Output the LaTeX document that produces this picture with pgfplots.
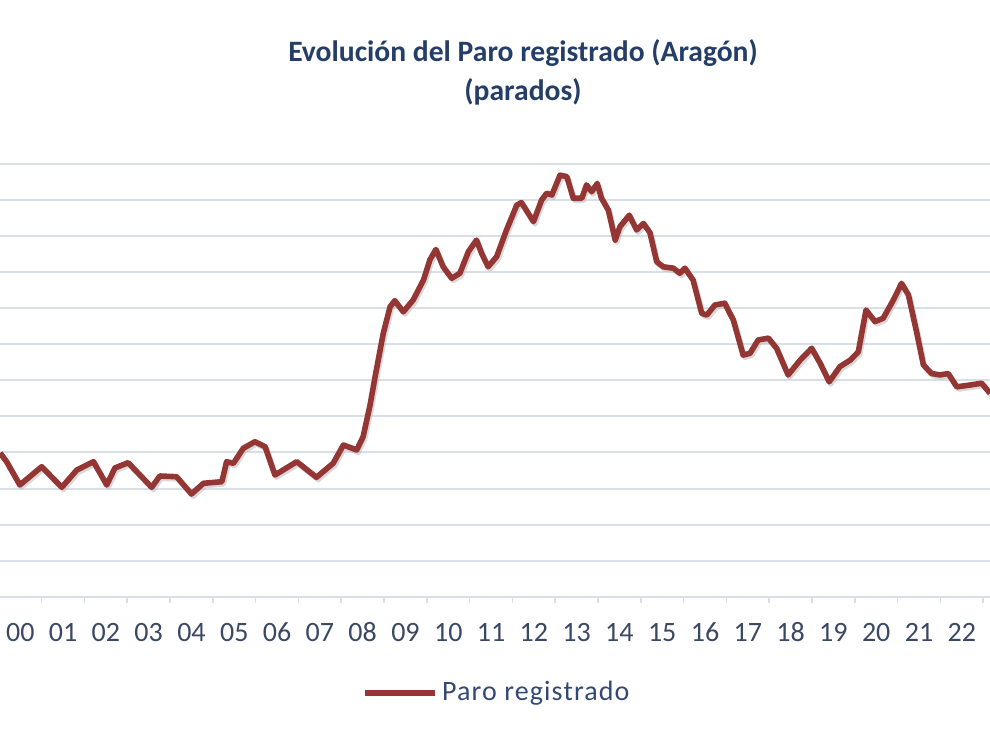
\documentclass[border=0pt]{standalone}
\usepackage{pgfplots}
\pgfplotsset{compat=1.18}
\usepackage{pgfplotstable}
\usepackage{fontspec}
\setmainfont{Carlito}
\newfontfamily\legfont[LetterSpace=4]{Carlito}
\definecolor{linered}{RGB}{148,54,52}
\definecolor{gridc}{RGB}{217,223,233}
\definecolor{titlec}{RGB}{36,62,104}
\definecolor{tickc}{RGB}{58,72,100}
\definecolor{legc}{RGB}{52,72,118}
\pgfplotstableread{
x y
2000.03 39850
2000.18 37440
2000.49 30980
2001.00 36050
2001.47 30340
2001.82 35130
2002.21 37440
2002.52 30980
2002.71 35690
2003.02 37160
2003.57 30340
2003.76 33470
2004.15 33280
2004.50 28480
2004.78 31450
2005.21 31890
2005.32 37440
2005.48 36990
2005.71 41150
2005.98 42980
2006.22 41600
2006.45 33750
2006.96 37440
2007.42 33110
2007.81 36990
2008.05 42070
2008.36 40680
2008.51 44370
2008.67 53000
2008.79 61000
2008.98 73000
2009.14 80400
2009.25 82100
2009.45 79000
2009.68 82300
2009.92 87800
2010.07 93400
2010.21 96300
2010.38 91500
2010.58 88300
2010.77 89700
2010.97 95700
2011.16 98900
2011.28 95200
2011.43 91500
2011.63 94300
2011.86 101700
2012.10 108600
2012.21 109300
2012.49 104000
2012.68 110000
2012.80 111900
2012.92 111400
2013.11 116900
2013.27 116500
2013.42 110500
2013.62 110500
2013.73 114200
2013.85 112300
2013.98 114600
2014.08 110500
2014.24 107200
2014.40 98900
2014.51 102600
2014.73 105800
2014.90 101700
2015.06 103500
2015.21 101000
2015.37 92900
2015.52 91500
2015.76 91100
2015.91 89700
2016.03 91100
2016.22 87800
2016.42 78600
2016.54 78100
2016.73 80900
2016.96 81400
2017.16 76700
2017.39 67000
2017.55 67500
2017.74 71200
2017.98 71700
2018.17 68900
2018.44 61500
2018.72 65600
2018.99 68900
2019.19 64700
2019.40 59600
2019.65 63800
2019.89 65600
2020.08 67900
2020.26 79500
2020.47 76300
2020.66 77200
2020.90 82300
2021.09 86900
2021.25 83700
2021.44 73500
2021.60 64300
2021.79 61900
2021.99 61500
2022.18 61900
2022.38 58200
2022.69 58700
2022.96 59200
2023.16 56400
}\paro
\begin{document}
\begin{tikzpicture}
\path[use as bounding box] (0,0) rectangle (495pt,371.5pt);
\begin{axis}[
  at={(0pt,73.15pt)}, anchor=south west,
  scale only axis, width=495pt, height=216.35pt,
  xmin=2000.026, xmax=2023.157,
  ymin=0, ymax=120000,
  scaled y ticks=false,
  axis lines*=left,
  y axis line style={draw=none},
  x axis line style={draw=gridc, line width=1pt},
  ytick={10000,20000,...,120000},
  yticklabels={}, ytick style={draw=none},
  ymajorgrids, major grid style={draw=gridc, line width=1pt},
  xtick={2001,2002,...,2023}, xticklabels={},
  xtick align=outside, major tick length=3pt,
  xtick style={draw=gridc, line width=0.8pt},
  extra x ticks={2000.5,2001.5,...,2022.5},
  extra x tick labels={00,01,02,03,04,05,06,07,08,09,10,11,12,13,14,15,16,17,18,19,20,21,22},
  extra x tick style={major tick length=0pt, tick style={draw=none}, grid=none,
    tick label style={anchor=base, yshift=-22.5pt}},
  xticklabel style={font=\fontsize{14}{16}\selectfont, text=tickc},
  legend style={at={(0.503,-0.222)}, anchor=center, draw=none, fill=none,
    font=\legfont\fontsize{14}{16}\selectfont, text=legc, legend cell align=left,
    /tikz/every even column/.append style={column sep=2pt}},
  legend image code/.code={\draw[#1] (0pt,0pt) -- (35pt,0pt);},
]
\addplot[black!25, opacity=0.6, line width=2.6pt, line join=round, xshift=0.8pt, yshift=-1.2pt, forget plot] table[x=x,y=y] {\paro};
\addplot[linered, line width=2.8pt, line join=round] table[x=x,y=y] {\paro};
\addlegendentry{Paro registrado}
\end{axis}
\node[anchor=base, text=titlec, font=\bfseries\fontsize{14.8}{17}\selectfont] at (261.5pt,340.5pt) {Evolución del Paro registrado (Aragón)};
\node[anchor=base, text=titlec, font=\bfseries\fontsize{14.8}{17}\selectfont] at (261.5pt,321pt) {(parados)};
\end{tikzpicture}
\end{document}
